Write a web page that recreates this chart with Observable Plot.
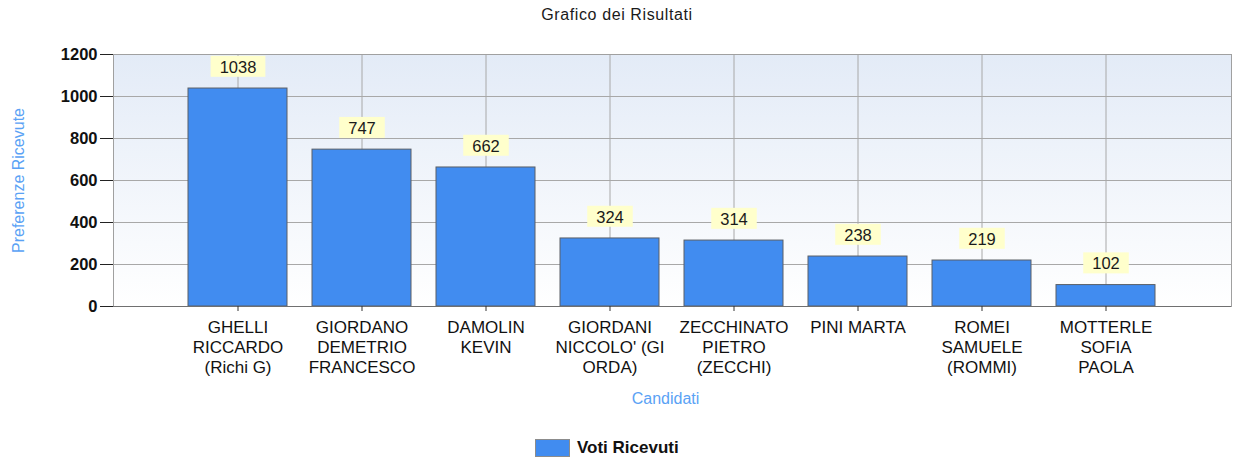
<!DOCTYPE html>
<html>
<head>
<meta charset="utf-8">
<script src="https://cdn.jsdelivr.net/npm/d3@7"></script>
<script src="https://cdn.jsdelivr.net/npm/@observablehq/plot@0.6"></script>
<style>
  body { margin: 0; background: #fff; font-family: "Liberation Sans", Arial, sans-serif; }
  #wrap { position: relative; width: 1234px; height: 459px; overflow: hidden; }
  #title { position: absolute; left: 0; top: 0; width: 1234px; height: 30px; line-height: 30px; text-align: center; font-size: 16px; letter-spacing: 0.6px; color: #1a1a1a; }
  #chart { position: absolute; left: 0; top: 30px; }
  #legend { position: absolute; left: 535px; top: 439px; height: 18px; display: flex; align-items: center; }
  #legend .sw { width: 33px; height: 16px; background: #418CF0; border: 1px solid #8c8c8c; }
  #legend .lt { margin-left: 7px; font-weight: bold; font-size: 17px; color: #111; }
</style>
</head>
<body>
<div id="wrap">
  <div id="title"></div>
  <div id="chart"></div>
  <div id="legend"><div class="sw"></div><div class="lt"></div></div>
</div>
<script>
// ---- data ----
const titleText = "Grafico dei Risultati";
const xTitle = "Candidati";
const yTitle = "Preferenze Ricevute";
const seriesName = "Voti Ricevuti";
const candidates = [
  "GHELLI RICCARDO (Richi G)",
  "GIORDANO DEMETRIO FRANCESCO",
  "DAMOLIN KEVIN",
  "GIORDANI NICCOLO' (GIORDA)",
  "ZECCHINATO PIETRO (ZECCHI)",
  "PINI MARTA",
  "ROMEI SAMUELE (ROMMI)",
  "MOTTERLE SOFIA PAOLA"
];
const tickLabels = [
  "GHELLI\nRICCARDO\n(Richi G)",
  "GIORDANO\nDEMETRIO\nFRANCESCO",
  "DAMOLIN\nKEVIN",
  "GIORDANI\nNICCOLO' (GI\nORDA)",
  "ZECCHINATO\nPIETRO\n(ZECCHI)",
  "PINI MARTA",
  "ROMEI\nSAMUELE\n(ROMMI)",
  "MOTTERLE\nSOFIA\nPAOLA"
];
const votes = [1038, 747, 662, 324, 314, 238, 219, 102];
const yTicks = [0, 200, 400, 600, 800, 1000, 1200];

// ---- build ----
const data = candidates.map((c, i) => ({name: c, votes: votes[i]}));
const labelOf = new Map(candidates.map((c, i) => [c, tickLabels[i]]));

document.getElementById("title").textContent = titleText;
document.querySelector("#legend .lt").textContent = seriesName;

const defsMark = () => {
  const defs = d3.create("svg:defs");
  const lg = defs.append("linearGradient").attr("id", "bgGrad")
    .attr("x1", 0).attr("y1", 0).attr("x2", 0).attr("y2", 1);
  lg.append("stop").attr("offset", "0%").attr("stop-color", "#E3EBF7");
  lg.append("stop").attr("offset", "100%").attr("stop-color", "#FFFFFF");
  return defs.node();
};

const chart = Plot.plot({
  width: 1234,
  height: 400,
  marginLeft: 113,
  marginRight: 3,
  marginTop: 24,
  marginBottom: 124,
  style: {fontFamily: "'Liberation Sans', Arial, sans-serif", background: "transparent", color: "#111"},
  x: {type: "band", domain: candidates, paddingInner: 0.2, paddingOuter: 0.6, align: 0.5, label: null},
  y: {domain: [0, 1200], label: null},
  marks: [
    defsMark,
    Plot.frame({fill: "url(#bgGrad)", stroke: "none"}),
    Plot.gridX({stroke: "#a8a8a8", strokeOpacity: 1}),
    Plot.gridY({ticks: yTicks, stroke: "#a8a8a8", strokeOpacity: 1}),
    Plot.frame({stroke: "#a0a0a0"}),
    Plot.barY(data, {x: "name", y: "votes", fill: "#418CF0", stroke: "#5a5f66", strokeWidth: 1}),
    Plot.ruleY([0], {stroke: "#707070"}),
    Plot.axisY({ticks: yTicks, tickFormat: d => String(d), tickSize: 13, tickPadding: 3, fontSize: 16.5, fontWeight: "bold", stroke: "#222", label: null}),
    Plot.axisX({tickSize: 5, tickPadding: 7, fontSize: 17, lineHeight: 1.18, stroke: "#333", fill: "#111",
      tickFormat: d => labelOf.get(d), label: null}),
    Plot.text(data, {x: "name", y: "votes", text: d => String(d.votes), dy: -21, lineAnchor: "middle",
      fontSize: 16.5, fill: "#1a1a1a"}),
    Plot.text([xTitle], {text: d => d, frameAnchor: "bottom", dx: -7, dy: 92, lineAnchor: "middle",
      fontSize: 16, fill: "#5AA2F5"}),
    Plot.text([yTitle], {text: d => d, frameAnchor: "left", dx: -95, rotate: -90, textAnchor: "middle", lineAnchor: "middle",
      fontSize: 16, fill: "#5AA2F5"})
  ]
});
document.getElementById("chart").append(chart);

// yellow boxes behind value labels
const svgns = "http://www.w3.org/2000/svg";
const voteStrings = new Set(votes.map(String));
chart.querySelectorAll("text").forEach(t => {
  if (!voteStrings.has(t.textContent.trim())) return;
  const b = t.getBBox();
  const r = document.createElementNS(svgns, "rect");
  r.setAttribute("x", b.x - 9);
  r.setAttribute("y", b.y - 2);
  r.setAttribute("width", b.width + 18);
  r.setAttribute("height", b.height + 3);
  r.setAttribute("fill", "#FFFFCC");
  r.setAttribute("stroke", "none");
  const tr = t.getAttribute("transform");
  if (tr) r.setAttribute("transform", tr);
  t.parentNode.insertBefore(r, t);
});
</script>
</body>
</html>
